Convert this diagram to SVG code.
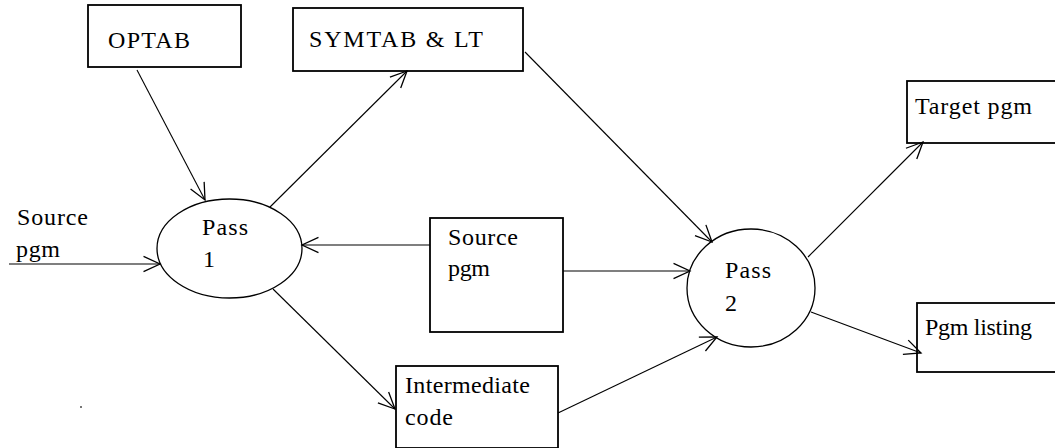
<svg xmlns="http://www.w3.org/2000/svg" width="1055" height="448" viewBox="0 0 1055 448">
  <style>
    .box { fill: #fff; stroke: #000; stroke-width: 1.8; }
    .proc { fill: #fff; stroke: #000; stroke-width: 1.3; }
    .lbl { font-family: 'Liberation Serif', Tinos, 'Noto Serif', 'DejaVu Serif', 'Nimbus Roman', 'Nimbus Roman No9 L', FreeSerif, Times, 'Times New Roman', Georgia, serif; font-size: 24px; fill: #000; }
    .wire { fill: none; stroke: #000; stroke-width: 1.1; marker-end: url(#head); }
  </style>
  <defs>
    <marker id="head" markerUnits="userSpaceOnUse" markerWidth="20" markerHeight="20" viewBox="-15 -8 17 16" refX="0" refY="0" orient="auto">
      <path d="M-14,-6.5 L0,0 L-14,6.5" fill="none" stroke="#000" stroke-width="1.1"/>
    </marker>
  </defs>

  <rect width="1055" height="448" fill="#fff"/>

  <!-- data stores and files -->
  <g id="optab">
    <rect class="box" x="88" y="5" width="153" height="62"/>
    <text class="lbl" x="108" y="48" textLength="82" lengthAdjust="spacing">OPTAB</text>
  </g>
  <g id="symtab">
    <rect class="box" x="293" y="8" width="230" height="63"/>
    <text class="lbl" x="309" y="47" textLength="174" lengthAdjust="spacing">SYMTAB &amp; LT</text>
  </g>
  <g id="source-in">
    <text class="lbl" x="17" y="225" textLength="71" lengthAdjust="spacing">Source</text>
    <text class="lbl" x="16" y="257" textLength="44" lengthAdjust="spacing">pgm</text>
  </g>
  <g id="pass1">
    <ellipse class="proc" cx="229.5" cy="248.5" rx="72.5" ry="49.5"/>
    <text class="lbl" x="202" y="235" textLength="46" lengthAdjust="spacing">Pass</text>
    <text class="lbl" x="203" y="267">1</text>
  </g>
  <g id="source-file">
    <rect class="box" x="430" y="218" width="133" height="114"/>
    <text class="lbl" x="448" y="245" textLength="70" lengthAdjust="spacing">Source</text>
    <text class="lbl" x="448" y="276" textLength="42" lengthAdjust="spacing">pgm</text>
  </g>
  <g id="intermediate">
    <rect class="box" x="396" y="366" width="162" height="82"/>
    <text class="lbl" x="405" y="393" textLength="125" lengthAdjust="spacing">Intermediate</text>
    <text class="lbl" x="405" y="425" textLength="48" lengthAdjust="spacing">code</text>
  </g>
  <g id="pass2">
    <ellipse class="proc" cx="751" cy="288" rx="64" ry="59"/>
    <text class="lbl" x="725" y="278" textLength="46" lengthAdjust="spacing">Pass</text>
    <text class="lbl" x="725" y="311">2</text>
  </g>
  <g id="target">
    <rect class="box" x="907" y="81" width="160" height="62"/>
    <text class="lbl" x="915" y="114" textLength="117" lengthAdjust="spacing">Target pgm</text>
  </g>
  <g id="listing">
    <rect class="box" x="917" y="303" width="150" height="69"/>
    <text class="lbl" x="925" y="335" textLength="107" lengthAdjust="spacing">Pgm listing</text>
  </g>

  <!-- data flows -->
  <g id="connectors">
    <line class="wire" x1="137" y1="70" x2="205" y2="200"/>
    <line class="wire" x1="270" y1="207" x2="407" y2="71"/>
    <line class="wire" x1="525" y1="52" x2="712" y2="242"/>
    <line class="wire" x1="9" y1="264" x2="160" y2="264"/>
    <line class="wire" x1="430" y1="245" x2="302" y2="245"/>
    <line class="wire" x1="563" y1="271" x2="690" y2="271"/>
    <line class="wire" x1="273" y1="289" x2="395" y2="409"/>
    <line class="wire" x1="558" y1="413" x2="717" y2="337"/>
    <line class="wire" x1="808" y1="257" x2="923" y2="142"/>
    <line class="wire" x1="811" y1="312" x2="921" y2="353"/>
  </g>

  <rect x="80" y="406" width="2" height="2" fill="#777"/>
</svg>
